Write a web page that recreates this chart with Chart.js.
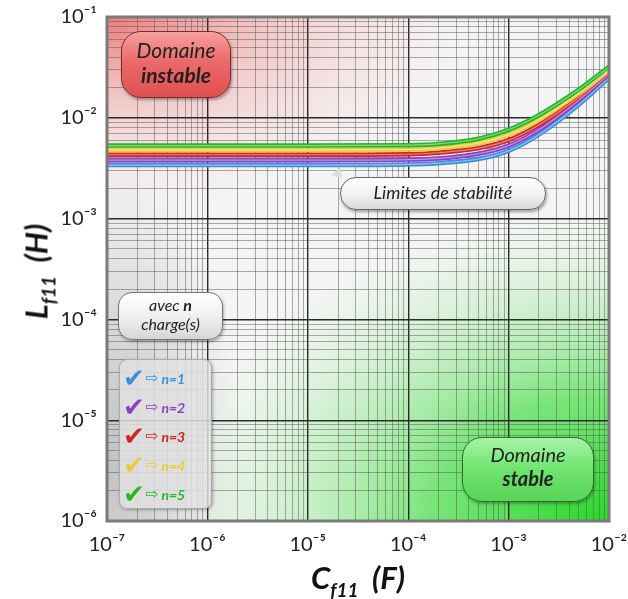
<!DOCTYPE html>
<html><head><meta charset="utf-8">
<script src="https://cdn.jsdelivr.net/npm/chart.js@4"></script>
<style>
body{margin:0;background:#fff;}
#wrap{position:relative;width:628px;height:599px;overflow:hidden;font-family:Lato,"Open Sans",sans-serif;}
canvas{position:absolute;left:0;top:0;}
.box{position:absolute;box-sizing:border-box;text-align:center;font-style:italic;color:#222;line-height:1.2;}
.dom-i{left:121px;top:31px;width:110px;height:67px;border-radius:20px;border:1.5px solid #7a2a2a;
 background:linear-gradient(180deg,#f7a0a0 0%,#ec6a6a 45%,#e05050 100%);font-size:21px;padding-top:5px;box-shadow:1px 2px 3px rgba(0,0,0,.35);}
.dom-s{left:462px;top:437px;width:132px;height:65px;border-radius:20px;border:1.5px solid #2f6a2f;
 background:linear-gradient(180deg,#a6f5a6 0%,#6fe36f 50%,#57d557 100%);font-size:20px;padding-top:4px;box-shadow:1px 2px 3px rgba(0,0,0,.3);}
.lim{left:340px;top:177px;width:206px;height:33px;border-radius:16px;border:1.5px solid #666;
 background:linear-gradient(180deg,#ffffff 0%,#eeeeee 60%,#d8d8d8 100%);font-size:18px;padding-top:4px;box-shadow:1px 2px 3px rgba(0,0,0,.35);}
.avec{left:118px;top:292px;width:105px;height:48px;border-radius:14px;border:1.5px solid #777;
 background:linear-gradient(180deg,#ffffff 0%,#ececec 60%,#d5d5d5 100%);font-size:16px;padding-top:2px;box-shadow:1px 2px 3px rgba(0,0,0,.3);}
.leg{left:119px;top:359px;width:93px;height:150px;border-radius:8px;border:1px solid #aaa;
 background:rgba(225,225,225,0.85);box-shadow:1px 1px 3px rgba(0,0,0,.3);padding-top:2px;text-align:left;}
.leg .row{height:29px;line-height:29px;white-space:nowrap;padding-left:3px;}
.leg .ck{font-family:"DejaVu Sans";font-style:normal;font-size:26px;vertical-align:middle;}
.leg .ar{font-family:"DejaVu Sans";font-style:normal;font-size:15px;vertical-align:middle;margin-left:1px;}
.leg .nt{font-weight:bold;font-style:italic;font-size:14px;vertical-align:middle;margin-left:3px;}
.ptr{position:absolute;left:333px;top:170px;width:0;height:0;border-left:6px solid transparent;border-right:6px solid transparent;border-top:10px solid #ddd;transform:rotate(-40deg);}
.ax{position:absolute;font-weight:bold;font-style:italic;color:#111;white-space:nowrap;}
.ax sub{font-size:19px;vertical-align:-8px;}
.xt{left:288px;top:558px;font-size:31px;width:140px;text-align:center;}
.yt{left:-32px;top:250px;font-size:31px;width:140px;text-align:center;transform:rotate(-90deg);}
</style></head>
<body><div id="wrap">
<canvas id="c" width="628" height="599"></canvas>
<div class="box dom-i">Domaine<br><b>instable</b></div>
<div class="box dom-s">Domaine<br><b>stable</b></div>
<div class="ptr"></div>
<div class="box lim">Limites de stabilité</div>
<div class="box avec">avec <b>n</b><br>charge(s)</div>
<div class="box leg" id="leg"></div>
<div class="ax xt">C<sub>f11</sub>&nbsp; (F)</div>
<div class="ax yt">L<sub>f11</sub>&nbsp; (H)</div>
</div>
<script>
// ---- data ----
const capacitance = [1e-7, 1e-6, 1e-5, 1e-4, 2e-4, 5e-4, 1e-3, 2e-3, 5e-3, 1e-2];
const seriesLabels = ['n=1', 'n=2', 'n=3', 'n=4', 'n=5'];
const seriesColors = ['#3d8fdc', '#8c3fc9', '#d42424', '#e8cc3a', '#25b825'];
const L_n1 = [3.4e-3, 3.4e-3, 3.4e-3, 3.45e-3, 3.55e-3, 3.9e-3, 4.7e-3, 6.8e-3, 1.35e-2, 2.5e-2];
const L_n2 = [3.8e-3, 3.8e-3, 3.8e-3, 3.85e-3, 3.95e-3, 4.4e-3, 5.3e-3, 7.6e-3, 1.5e-2, 2.7e-2];
const L_n3 = [4.3e-3, 4.3e-3, 4.3e-3, 4.35e-3, 4.5e-3, 5.0e-3, 6.0e-3, 8.5e-3, 1.6e-2, 2.85e-2];
const L_n4 = [4.8e-3, 4.8e-3, 4.8e-3, 4.85e-3, 5.0e-3, 5.6e-3, 6.8e-3, 9.5e-3, 1.75e-2, 3.0e-2];
const L_n5 = [5.3e-3, 5.3e-3, 5.3e-3, 5.35e-3, 5.5e-3, 6.2e-3, 7.6e-3, 1.06e-2, 1.9e-2, 3.2e-2];
const seriesValues = [L_n1, L_n2, L_n3, L_n4, L_n5];
const xDecades = [-7, -6, -5, -4, -3, -2];
const yDecades = [-6, -5, -4, -3, -2, -1];

const SUP = {'-':'⁻','0':'⁰','1':'¹','2':'²','3':'³','4':'⁴','5':'⁵','6':'⁶','7':'⁷','8':'⁸','9':'⁹'};
const sup = s => String(s).split('').map(c => SUP[c]).join('');
const isDecade = v => Math.abs(Math.log10(v) - Math.round(Math.log10(v))) < 1e-6;
function logTicks(decs){
  const t=[];
  for(let i=0;i<decs.length;i++){
    const e=decs[i];
    if(i===decs.length-1){t.push({value:Math.pow(10,e)});break;}
    for(let m=1;m<=9;m++) t.push({value:Number((m*Math.pow(10,e)).toPrecision(3))});
  }
  return t;
}

// legend
const leg=document.getElementById('leg');
seriesLabels.forEach((l,i)=>{
  const r=document.createElement('div');r.className='row';
  r.innerHTML=`<span class="ck" style="color:${seriesColors[i]}">✔</span><span class="ar" style="color:${seriesColors[i]}">⇨</span><span class="nt" style="color:${seriesColors[i]}">${l}</span>`;
  leg.appendChild(r);
});

const bgPlugin={id:'bg',beforeDraw(chart){
  const {ctx,chartArea:a}=chart;
  ctx.save();
  ctx.beginPath();ctx.rect(a.left,a.top,a.right-a.left,a.bottom-a.top);ctx.clip();
  ctx.fillStyle='#f4f4f4';ctx.fillRect(a.left,a.top,a.right-a.left,a.bottom-a.top);
  // left gray haze
  ctx.save();ctx.translate(a.left,a.bottom-60);ctx.scale(0.45,1);
  let g=ctx.createRadialGradient(0,0,0,0,0,300);
  g.addColorStop(0,'rgba(160,160,160,0.6)');g.addColorStop(1,'rgba(160,160,160,0)');
  ctx.fillStyle=g;ctx.fillRect(0,-300,300,360);ctx.restore();
  // red top-left
  ctx.save();ctx.translate(a.left,a.top);ctx.scale(1.9,1);
  g=ctx.createRadialGradient(0,0,0,0,0,190);
  g.addColorStop(0,'rgba(236,100,100,0.85)');g.addColorStop(0.45,'rgba(240,150,150,0.45)');g.addColorStop(1,'rgba(255,200,200,0)');
  ctx.fillStyle=g;ctx.fillRect(0,0,400,260);ctx.restore();
  // green bottom-right
  ctx.save();ctx.translate(a.right,a.bottom);ctx.scale(1.45,1);
  g=ctx.createRadialGradient(0,0,0,0,0,310);
  g.addColorStop(0,'rgba(40,215,40,1)');g.addColorStop(0.4,'rgba(90,225,90,0.8)');g.addColorStop(0.75,'rgba(160,235,160,0.35)');g.addColorStop(1,'rgba(200,245,200,0)');
  ctx.fillStyle=g;ctx.fillRect(-400,-320,400,320);ctx.restore();
  ctx.restore();
},afterDatasetsDraw(chart){
  const {ctx,chartArea:a}=chart;
  ctx.save();ctx.strokeStyle='#7a7a7a';ctx.lineWidth=3;
  ctx.strokeRect(a.left,a.top,a.right-a.left,a.bottom-a.top);ctx.restore();
}};

const datasets=[];
// glossy tubes: thick colored line + thin light highlight
for(let i=seriesValues.length-1;i>=0;i--){
  const pts=capacitance.map((c,k)=>({x:c,y:seriesValues[i][k]}));
  datasets.push({label:seriesLabels[i]+' hl',data:pts,borderColor:'rgba(255,255,255,0.45)',borderWidth:1.2,pointRadius:0,cubicInterpolationMode:'monotone',order:0});
  datasets.push({label:seriesLabels[i],data:pts,borderColor:seriesColors[i],borderWidth:4.5,pointRadius:0,cubicInterpolationMode:'monotone',order:1});
}

const gridOpts={
  color:c=>c.tick&&isDecade(c.tick.value)?'#2a2a2a':'rgba(85,85,85,0.55)',
  lineWidth:c=>c.tick&&isDecade(c.tick.value)?1.4:0.9,
  drawTicks:false
};
const tickFont={family:'Lato, "Open Sans", sans-serif',size:20};
new Chart(document.getElementById('c'),{
  type:'scatter',
  data:{datasets},
  plugins:[bgPlugin],
  options:{
    responsive:false,animation:false,
    layout:{padding:{left:0,top:17,right:19,bottom:0}},
    plugins:{legend:{display:false},tooltip:{enabled:false}},
    elements:{line:{fill:false}},
    datasets:{scatter:{showLine:true}},
    scales:{
      x:{type:'logarithmic',min:1e-7,max:1e-2,
        afterBuildTicks:s=>{s.ticks=logTicks(xDecades);},
        afterFit:s=>{s.height=78;s.paddingLeft=0;s.paddingRight=0;},
        grid:gridOpts,border:{display:false},
        ticks:{autoSkip:false,maxRotation:0,padding:12,color:'#222',font:tickFont,
          callback:v=>isDecade(v)?'10'+sup(Math.round(Math.log10(v))):''}},
      y:{type:'logarithmic',min:1e-6,max:1e-1,
        afterBuildTicks:s=>{s.ticks=logTicks(yDecades);},
        afterFit:s=>{s.width=107;s.paddingTop=0;s.paddingBottom=0;},
        grid:gridOpts,border:{display:false},
        ticks:{autoSkip:false,padding:10,color:'#222',font:tickFont,
          callback:v=>isDecade(v)?'10'+sup(Math.round(Math.log10(v))):''}}
    }
  }
});
</script>
</body></html>
